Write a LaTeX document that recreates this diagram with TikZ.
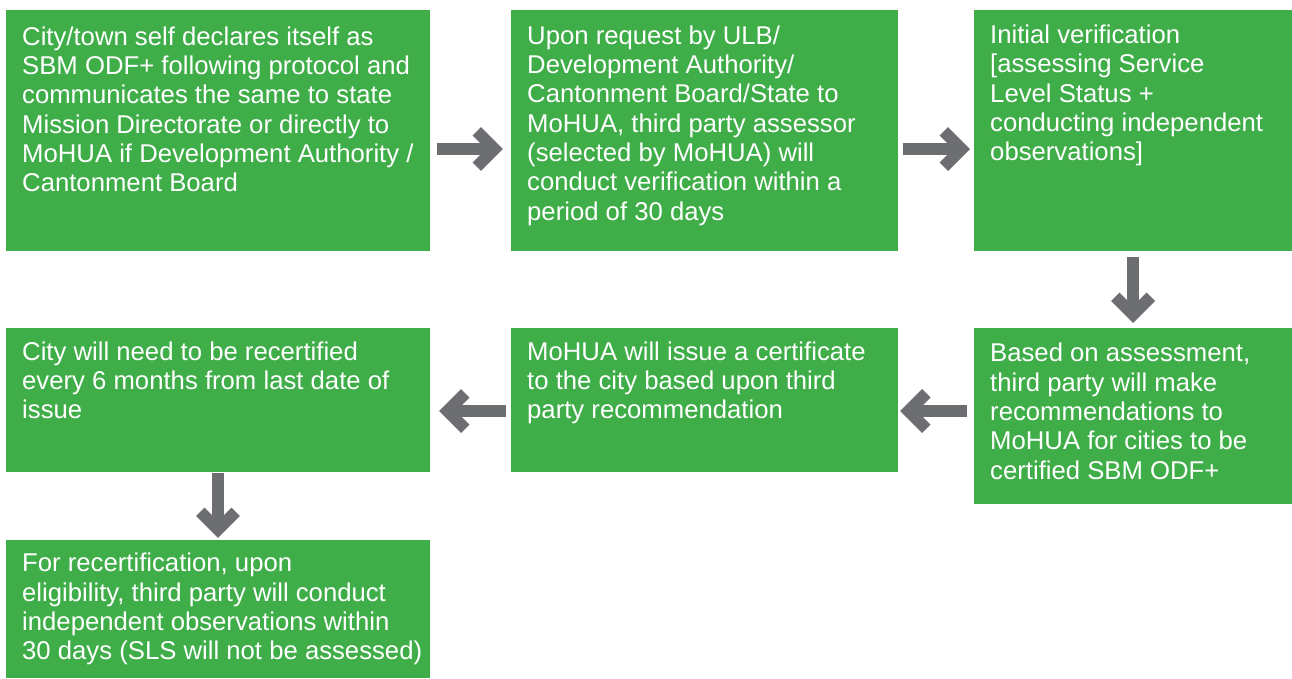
\documentclass[tikz,border=0pt]{standalone}
\usepackage{fontspec}
\setmainfont{Liberation Sans}
\definecolor{sbgreen}{HTML}{3FAE49}
\definecolor{agray}{HTML}{6D6E71}
\begin{document}
\begin{tikzpicture}[x=1pt,y=-1pt,
  box/.style={fill=sbgreen, draw=none, inner sep=0pt, anchor=north west},
  txt/.style={anchor=north west, inner sep=0pt, align=left, text=white,
    font=\fontsize{25.7pt}{29.3pt}\selectfont},
  shaft/.style={draw=agray, line width=12pt, shorten >=10pt},
  chevhead/.pic={\draw[line width=12pt, line cap=butt, line join=miter, agray]
    (-26.25,17.75) -- (-8.5,0) -- (-26.25,-17.75);}]
\useasboundingbox (0,0) rectangle (1292,678);
% boxes
\node[box, minimum width=424pt, minimum height=240.5pt] (b1) at (6,10) {};
\node[box, minimum width=387pt, minimum height=240.5pt] (b2) at (511,10) {};
\node[box, minimum width=318pt, minimum height=240.5pt] (b3) at (974,10) {};
\node[box, minimum width=318pt, minimum height=176pt] (b4) at (974,328) {};
\node[box, minimum width=387pt, minimum height=144pt] (b5) at (511,328) {};
\node[box, minimum width=424pt, minimum height=144pt] (b6) at (6,328) {};
\node[box, minimum width=424pt, minimum height=138.5pt] (b7) at (6,539.5) {};
% texts
\node[txt] (t1) at (22,24.5) {\strut City/town self declares itself as\\SBM ODF+ following protocol and\\communicates the same to state\\Mission Directorate or directly to\\MoHUA if Development Authority /\\Cantonment Board};
\node[txt] (t2) at (527,23.5) {\strut Upon request by ULB/\\Development Authority/\\Cantonment Board/State to\\MoHUA, third party assessor\\(selected by MoHUA) will\\conduct verification within a\\period of 30 days};
\node[txt] (t3) at (990,22.8) {\strut Initial verification\\{[}assessing Service\\Level Status +\\conducting independent\\observations{]}};
\node[txt] (t4) at (990,341.2) {\strut Based on assessment,\\third party will make\\recommendations to\\MoHUA for cities to be\\certified SBM ODF+};
\node[txt] (t5) at (527,339.5) {\strut MoHUA will issue a certificate\\to the city based upon third\\party recommendation};
\node[txt] (t6) at (22,339.5) {\strut City will need to be recertified\\every 6 months from last date of\\issue};
\node[txt] (t7) at (22,551.2) {\strut For recertification, upon\\eligibility, third party will conduct\\independent observations within\\30 days (SLS will not be assessed)};
% arrow end points
\coordinate (a1s) at (437,149);  \coordinate (a1t) at (503,149);
\coordinate (a2s) at (903,149);  \coordinate (a2t) at (970,149);
\coordinate (a3s) at (1133,257); \coordinate (a3t) at (1133,323);
\coordinate (a4s) at (967,411);  \coordinate (a4t) at (900,411);
\coordinate (a5s) at (506,411);  \coordinate (a5t) at (439,411);
\coordinate (a6s) at (218,473);  \coordinate (a6t) at (218,538);
% arrows
\draw[shaft] (a1s) -- (a1t); \pic at (a1t) {chevhead};
\draw[shaft] (a2s) -- (a2t); \pic at (a2t) {chevhead};
\draw[shaft] (a3s) -- (a3t); \pic[rotate=-90] at (a3t) {chevhead};
\draw[shaft] (a4s) -- (a4t); \pic[rotate=180] at (a4t) {chevhead};
\draw[shaft] (a5s) -- (a5t); \pic[rotate=180] at (a5t) {chevhead};
\draw[shaft] (a6s) -- (a6t); \pic[rotate=-90] at (a6t) {chevhead};
\end{tikzpicture}
\end{document}
